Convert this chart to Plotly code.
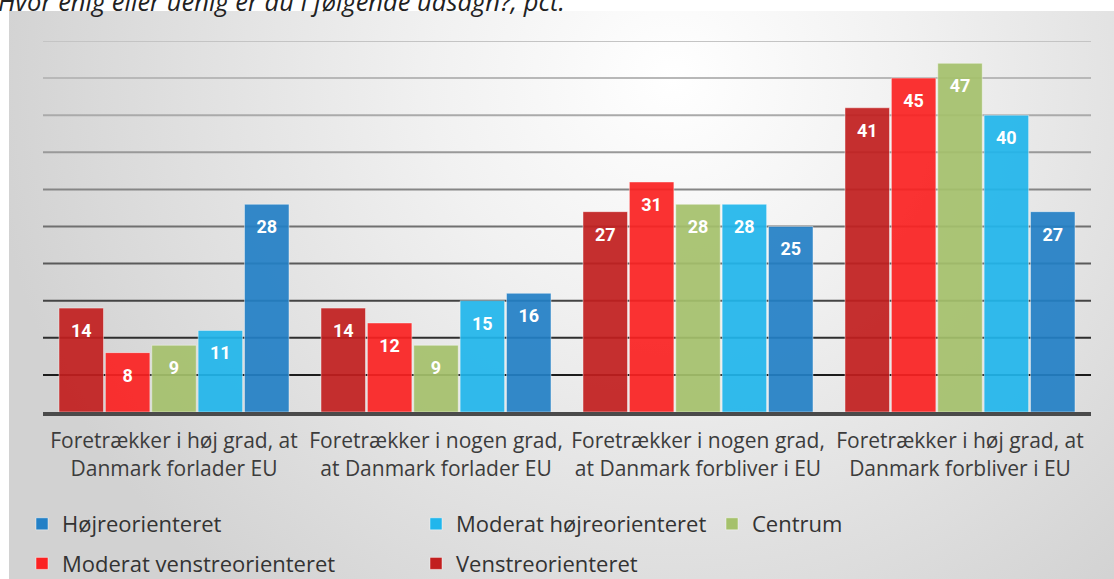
import base64
import plotly.graph_objects as go

# ---------------- data ----------------
categories = [
    "Foretrækker i høj grad, at<br>Danmark forlader EU",
    "Foretrækker i nogen grad,<br>at Danmark forlader EU",
    "Foretrækker i nogen grad,<br>at Danmark forbliver i EU",
    "Foretrækker i høj grad, at<br>Danmark forbliver i EU",
]
series_names = [
    "Venstreorienteret",
    "Moderat venstreorienteret",
    "Centrum",
    "Moderat højreorienteret",
    "Højreorienteret",
]
venstre = [14, 14, 27, 41]
moderat_venstre = [8, 12, 31, 45]
centrum = [9, 9, 28, 47]
moderat_hojre = [11, 15, 28, 40]
hojre = [28, 16, 25, 27]
series_values = [venstre, moderat_venstre, centrum, moderat_hojre, hojre]
grid_values = [5, 10, 15, 20, 25, 30, 35, 40, 45, 50]
title_text = "Hvor enig eller uenig er du i følgende udsagn?, pct."

# ---------------- styles ----------------
colors = ["#c21f1f", "#fb2222", "#a5c16c", "#21b6ec", "#2380c6"]
legend_ids = ["legend2", "legend", "legend3", "legend2", "legend"]
legend_ranks = [2, 2, 1, 1, 1]
grid_colors = ["#1c1c1c", "#2e2e2e", "#444444", "#5a5a5a", "#707070",
               "#858585", "#999999", "#aaaaaa", "#b8b8b8", "#c4c4c4"]

W, H = 1114, 579
ML, MR, MT, MB = 43, 23, 41, 167

fig = go.Figure()

for name, vals, col, lg, rk in zip(series_names, series_values, colors,
                                   legend_ids, legend_ranks):
    fig.add_trace(go.Bar(
        x=categories, y=vals, name=name,
        marker=dict(color=col, opacity=0.92,
                    line=dict(color="rgba(255,255,255,0.45)", width=1)),
        legend=lg, legendgroup=name, legendrank=rk, offsetgroup=name,
        hoverinfo="skip",
    ))

for name, vals in zip(series_names, series_values):
    fig.add_trace(go.Scatter(
        x=categories, y=vals, mode="markers+text",
        text=[str(v) for v in vals], textposition="bottom center",
        textfont=dict(family="Roboto", size=18, color="white", weight="bold"),
        marker=dict(size=23, color="rgba(0,0,0,0)"),
        offsetgroup=name, showlegend=False, cliponaxis=False,
        hoverinfo="skip",
    ))

# gridlines
shapes = []
for gv, gc in zip(grid_values, grid_colors):
    shapes.append(dict(type="line", xref="paper", yref="y", x0=0, x1=1,
                       y0=gv, y1=gv, line=dict(color=gc, width=2),
                       layer="below"))

# background panel with radial gradient
pw = W - 9
ph = H - 11
svg = f'''<svg xmlns="http://www.w3.org/2000/svg" width="{pw}" height="{ph}" viewBox="0 0 {pw} {ph}" preserveAspectRatio="none">
<defs><radialGradient id="g" cx="0.6" cy="0.12" r="0.62" gradientUnits="objectBoundingBox" gradientTransform="translate(0.6 0.12) scale(1 1.9) translate(-0.6 -0.12)">
<stop offset="0" stop-color="#ffffff"/><stop offset="0.35" stop-color="#f1f1f1"/><stop offset="1" stop-color="#d2d2d2"/></radialGradient></defs>
<rect width="{pw}" height="{ph}" fill="url(#g)"/></svg>'''
src = "data:image/svg+xml;base64," + base64.b64encode(svg.encode()).decode()
pwid = W - ML - MR
phei = H - MT - MB
fig.add_layout_image(dict(
    source=src, xref="paper", yref="paper",
    x=(9 - ML) / pwid, y=(H - MB - 11) / phei,
    sizex=pw / pwid, sizey=ph / phei,
    xanchor="left", yanchor="top", sizing="stretch", layer="below",
))

fig.add_annotation(
    text=title_text, xref="paper", yref="paper",
    x=(-4 - ML) / pwid, y=(H - MB - 1) / phei,
    xanchor="left", yanchor="middle", showarrow=False,
    font=dict(family="Open Sans", size=25.5, color="#222222", style="italic"),
)

legend_common = dict(
    orientation="v", font=dict(family="Open Sans", size=22, color="#333333"),
    bgcolor="rgba(0,0,0,0)", xanchor="left", yanchor="top",
    tracegroupgap=8, itemwidth=30, traceorder="grouped",
)
ly = (H - MB - 503) / phei
fig.update_layout(
    width=W, height=H,
    margin=dict(l=ML, r=MR, t=MT, b=MB, autoexpand=False),
    paper_bgcolor="white", plot_bgcolor="rgba(0,0,0,0)",
    barmode="group", bargap=0.115, bargroupgap=0.04,
    scattermode="group", scattergap=0.115,
    shapes=shapes,
    showlegend=True,
    legend=dict(legend_common, x=(22 - ML) / pwid, y=ly),
    legend2=dict(legend_common, x=(416 - ML) / pwid, y=ly),
    legend3=dict(legend_common, x=(712 - ML) / pwid, y=ly),
    xaxis=dict(showgrid=False, showline=True, linecolor="#4a4a4a", linewidth=4,
               ticks="", tickfont=dict(family="Open Sans", size=21, color="#3c3c3c"),
               ticklabelstandoff=7),
    yaxis=dict(range=[0, 50], showgrid=False, showticklabels=False,
               zeroline=False, showline=False),
)

fig.write_html("out.html", config={"displayModeBar": False},
               post_script="document.body.style.margin='0';")
